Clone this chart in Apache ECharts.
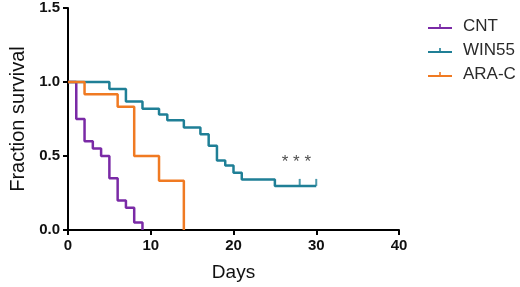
<!DOCTYPE html>
<html>
<head>
<meta charset="utf-8">
<script src="https://cdn.jsdelivr.net/npm/echarts@6/dist/echarts.min.js"></script>
<style>
html,body{margin:0;padding:0;background:#fff;}
#c{width:520px;height:287px;}
</style>
</head>
<body>
<div id="c"></div>
<script>
// Kaplan-Meier step data [day, fraction surviving]
const cntDays   = [0, 1, 2, 3, 4, 5, 6, 7, 8, 9];
const cntSurv   = [1.0, 0.75, 0.6, 0.55, 0.5, 0.35, 0.2, 0.15, 0.05, 0.0];
const winDays   = [0, 5, 7, 9, 11, 12, 14, 16, 17, 18, 19, 20, 21, 25, 30];
const winSurv   = [1.0, 0.953, 0.869, 0.82, 0.78, 0.742, 0.693, 0.647, 0.569, 0.469, 0.435, 0.387, 0.342, 0.298, 0.298];
const winCensorDays = [28, 30];
const winCensorSurv = [0.298, 0.298];
const araDays   = [0, 2, 6, 8, 11, 14];
const araSurv   = [1.0, 0.917, 0.833, 0.5, 0.333, 0.0];
const seriesNames = ['CNT', 'WIN55', 'ARA-C'];
const colors = ['#7a2aa6', '#1f7f96', '#f07a22'];
const xTicks = [0, 10, 20, 30, 40];
const yTicks = [0, 0.5, 1.0, 1.5];
const sigLabel = '* * *';
const sigPos = [27.6, 0.46];

const zip = (a, b) => a.map((v, i) => [v, b[i]]);
const font = '"Liberation Sans", Arial, sans-serif';
const legendIcon = 'path://M0,9 L24,9 L24,11 L0,11 Z M11.2,6 L12.8,6 L12.8,9 L11.2,9 Z';

const chart = echarts.init(document.getElementById('c'), null, {renderer: 'canvas'});
const lineSeries = (name, data, color) => ({
  name, type: 'line', step: 'end', data, showSymbol: false, symbol: 'none',
  lineStyle: {color, width: 2.5}, itemStyle: {color}, animation: false, z: 3
});
chart.setOption({
  animation: false,
  color: colors,
  grid: {left: 59, right: 121, top: 8, bottom: 54, containLabel: false},
  legend: {
    orient: 'vertical', left: 423, top: 13,
    itemWidth: 24, itemHeight: 10, itemGap: 7,
    data: seriesNames.map(n => ({name: n, icon: legendIcon})),
    textStyle: {fontFamily: font, fontSize: 17, color: '#2a2a2a', padding: [0, 0, 0, 6]}
  },
  xAxis: {
    type: 'value', min: xTicks[0], max: xTicks[xTicks.length - 1], interval: 10,
    name: 'Days', nameLocation: 'middle', nameGap: 33,
    nameTextStyle: {fontFamily: font, fontSize: 19, color: '#111'},
    axisLine: {lineStyle: {color: '#000', width: 2}},
    axisTick: {show: true, length: 5, lineStyle: {color: '#000', width: 2}},
    axisLabel: {fontFamily: font, fontSize: 15, fontWeight: 'bold', color: '#111', margin: 8},
    splitLine: {show: false}
  },
  yAxis: {
    type: 'value', min: yTicks[0], max: yTicks[yTicks.length - 1], interval: 0.5,
    name: 'Fraction survival', nameLocation: 'middle', nameGap: 40, nameRotate: 90,
    nameTextStyle: {fontFamily: font, fontSize: 20, color: '#111'},
    axisLine: {show: true, lineStyle: {color: '#000', width: 2}},
    axisTick: {show: true, length: 5, lineStyle: {color: '#000', width: 2}},
    axisLabel: {fontFamily: font, fontSize: 15, fontWeight: 'bold', color: '#111', margin: 8,
      formatter: v => v.toFixed(1)},
    splitLine: {show: false}
  },
  series: [
    lineSeries(seriesNames[0], zip(cntDays, cntSurv), colors[0]),
    lineSeries(seriesNames[1], zip(winDays, winSurv), colors[1]),
    {
      name: seriesNames[1], type: 'scatter', data: zip(winCensorDays, winCensorSurv),
      symbol: 'rect', symbolSize: [2, 7], symbolOffset: [0, -3.5],
      itemStyle: {color: colors[1]}, z: 3, silent: true
    },
    lineSeries(seriesNames[2], zip(araDays, araSurv), colors[2]),
    {
      name: 'sig', type: 'scatter', data: [sigPos], symbolSize: 0,
      label: {show: true, position: 'inside', formatter: sigLabel,
        fontFamily: font, fontSize: 17, color: '#222'},
      silent: true
    }
  ]
});
</script>
</body>
</html>
